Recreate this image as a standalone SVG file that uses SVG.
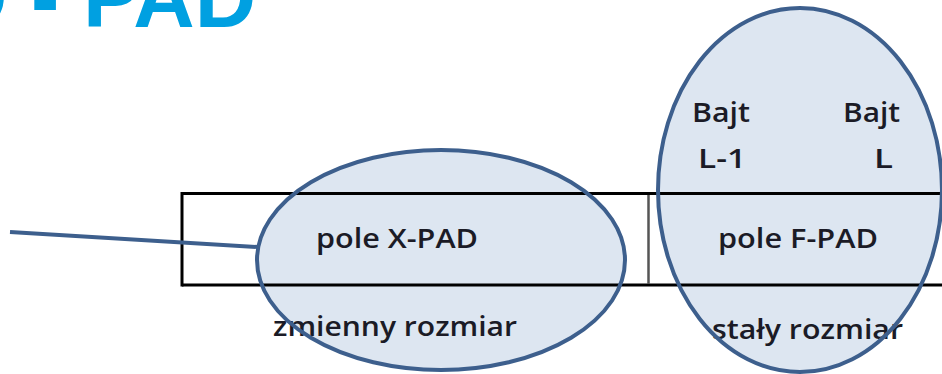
<svg xmlns="http://www.w3.org/2000/svg" width="942" height="374" viewBox="0 0 942 374">
<style>
.title{font-family:"Liberation Sans",Arial,sans-serif;font-weight:bold;font-size:85px;fill:#00A0E1}
.t{font-family:"Open Sans","Liberation Sans",Arial,sans-serif;font-weight:600;font-size:27px;fill:#1b1b26}
.fill{fill:#dde6f1;stroke:none}
.ring{fill:none;stroke:#3d5f8d;stroke-width:4}
.box{fill:none;stroke:#000;stroke-width:3}
</style>
<rect width="942" height="374" fill="#fff"/>
<text class="title" x="-54" y="27">D - PAD</text>
<g id="node-xpad-fill"><ellipse class="fill" cx="441" cy="260" rx="184" ry="110"/></g>
<g id="node-fpad-fill"><ellipse class="fill" cx="800" cy="190" rx="142" ry="182"/></g>
<g id="table">
<line class="box" x1="182" y1="193.5" x2="942" y2="193.5"/>
<line class="box" x1="182" y1="285" x2="942" y2="285"/>
<line class="box" x1="182" y1="192" x2="182" y2="286.5"/>
<line x1="648.5" y1="195" x2="648.5" y2="284" stroke="#555" stroke-width="2.5"/>
</g>
<g id="labels">
<text class="t" x="316" y="248" textLength="162" lengthAdjust="spacingAndGlyphs">pole X-PAD</text>
<text class="t" x="718" y="248" textLength="160" lengthAdjust="spacingAndGlyphs">pole F-PAD</text>
<text class="t" x="692" y="122" textLength="58" lengthAdjust="spacingAndGlyphs">Bajt</text>
<text class="t" x="843" y="122" textLength="57" lengthAdjust="spacingAndGlyphs">Bajt</text>
<text class="t" x="698" y="168" textLength="48" lengthAdjust="spacingAndGlyphs">L-1</text>
<text class="t" x="874" y="168" textLength="19" lengthAdjust="spacingAndGlyphs">L</text>
<text class="t" x="273" y="336" textLength="244" lengthAdjust="spacingAndGlyphs">zmienny rozmiar</text>
<text class="t" x="712" y="339" textLength="191" lengthAdjust="spacingAndGlyphs">stały rozmiar</text>
</g>
<g id="connectors">
<line x1="10" y1="232" x2="258" y2="247" stroke="#3d5f8d" stroke-width="4"/>
</g>
<g id="node-xpad"><ellipse class="ring" cx="441" cy="260" rx="184" ry="110"/></g>
<g id="node-fpad"><ellipse class="ring" cx="800" cy="190" rx="142" ry="182"/></g>
</svg>
